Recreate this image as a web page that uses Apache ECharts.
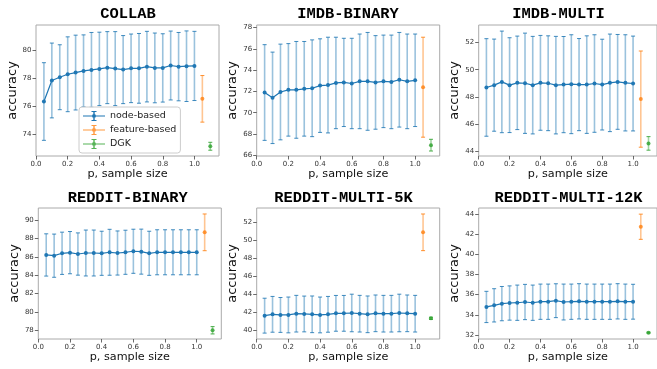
<!DOCTYPE html>
<html>
<head>
<meta charset="utf-8">
<script src="https://cdn.jsdelivr.net/npm/echarts@6/dist/echarts.min.js"></script>
<style>
  html, body { margin: 0; padding: 0; background: #fff; }
  #chart { width: 657px; height: 369px; }
</style>
</head>
<body>
<div id="chart"></div>
<script>
// sample sizes p (node-based points)
const sampleSizes = [0.05,0.1,0.15,0.2,0.25,0.3,0.35,0.4,0.45,0.5,0.55,0.6,0.65,0.7,0.75,0.8,0.85,0.9,0.95,1.0];
const featureX = 1.05;
const dgkX = 1.1;

const datasets = ['COLLAB','IMDB-BINARY','IMDB-MULTI','REDDIT-BINARY','REDDIT-MULTI-5K','REDDIT-MULTI-12K'];

const collabMean = [76.35,77.84,78.07,78.28,78.40,78.52,78.59,78.66,78.75,78.68,78.61,78.70,78.70,78.82,78.73,78.73,78.90,78.82,78.85,78.87];
const collabStd  = [2.75,2.65,2.3,2.65,2.65,2.55,2.65,2.6,2.55,2.62,2.41,2.43,2.47,2.5,2.47,2.42,2.44,2.42,2.5,2.45];
const imdbBMean  = [71.9,71.4,71.95,72.15,72.15,72.25,72.3,72.55,72.6,72.8,72.85,72.75,72.95,72.95,72.85,72.95,72.9,73.1,72.95,73.05];
const imdbBStd   = [4.5,4.3,4.5,4.35,4.55,4.45,4.55,4.4,4.5,4.3,4.15,4.25,4.45,4.6,4.4,4.35,4.4,4.45,4.45,4.35];
const imdbMMean  = [48.69,48.86,49.1,48.86,49.03,49.0,48.86,49.03,49.0,48.86,48.9,48.93,48.9,48.9,48.98,48.9,49.03,49.1,49.03,48.98];
const imdbMStd   = [3.6,3.4,3.75,3.5,3.45,3.7,3.6,3.5,3.5,3.6,3.55,3.65,3.4,3.6,3.6,3.35,3.6,3.5,3.55,3.5];
const redditBMean = [86.2,86.12,86.38,86.45,86.3,86.41,86.41,86.38,86.49,86.41,86.49,86.6,86.56,86.38,86.49,86.49,86.49,86.49,86.49,86.49];
const redditBStd  = [2.3,2.35,2.3,2.3,2.3,2.5,2.5,2.4,2.5,2.4,2.4,2.4,2.45,2.4,2.45,2.45,2.45,2.45,2.45,2.45];
const reddit5Mean = [41.6,41.75,41.68,41.68,41.82,41.79,41.75,41.68,41.75,41.86,41.86,41.9,41.82,41.75,41.86,41.82,41.82,41.9,41.86,41.82];
const reddit5Std  = [1.95,2.0,1.95,2.0,2.05,2.0,2.05,2.0,2.0,2.0,2.0,2.1,2.05,2.05,2.05,2.05,2.05,2.1,2.05,2.05];
const reddit12Mean = [34.78,34.94,35.11,35.17,35.2,35.27,35.2,35.3,35.3,35.4,35.27,35.3,35.34,35.3,35.3,35.3,35.3,35.34,35.3,35.3];
const reddit12Std  = [1.55,1.65,1.7,1.7,1.75,1.75,1.75,1.75,1.75,1.68,1.78,1.75,1.75,1.75,1.75,1.75,1.75,1.75,1.75,1.73];

// one value per dataset, same order as datasets
const featureMean = [76.54,72.4,47.83,88.66,50.92,42.74];
const featureStd  = [1.65,4.7,3.55,2.0,2.05,1.25];
const dgkMean = [73.18,66.95,44.56,78.0,41.3,32.23];
const dgkStd  = [0.28,0.55,0.5,0.4,0.12,0.05];

const nodeMeans = [collabMean, imdbBMean, imdbMMean, redditBMean, reddit5Mean, reddit12Mean];
const nodeStds  = [collabStd, imdbBStd, imdbMStd, redditBStd, reddit5Std, reddit12Std];

// tick labels
const xTicks = [0, 0.2, 0.4, 0.6, 0.8, 1.0];
const yTicks = [
  [74,76,78,80],
  [66,68,70,72,74,76,78],
  [44,46,48,50,52],
  [78,80,82,84,86,88,90],
  [40,42,44,46,48,50,52],
  [32,34,36,38,40,42,44]
];

// layout of each panel (px) and y extent
const panels = [
  {left: 36,    top: 25,  yMin: 72.49, yMax: 81.77, titleX: 128,   titleY: 14,    nameGap: 15},
  {left: 256.7, top: 25,  yMin: 65.93, yMax: 78.25, titleX: 348,   titleY: 14,    nameGap: 17.5},
  {left: 478.7, top: 25,  yMin: 43.63, yMax: 53.3,  titleX: 558.5, titleY: 14,    nameGap: 17.5},
  {left: 38.3,  top: 208, yMin: 77.05, yMax: 91.31, titleX: 127.7, titleY: 197.7, nameGap: 17.5},
  {left: 256.7, top: 208, yMin: 38.99, yMax: 53.64, titleX: 343.5, titleY: 197.7, nameGap: 17.5},
  {left: 478.7, top: 208, yMin: 31.6,  yMax: 44.6,  titleX: 568.5, titleY: 197.7, nameGap: 17.5}
];

const BLUE = '#1f77b4', ORANGE = '#ff7f0e', GREEN = '#2ca02c';

function errorBar(color, capColor) {
  return function (params, api) {
    const x = api.value(0), lo = api.value(1), hi = api.value(2);
    const a = api.coord([x, hi]), b = api.coord([x, lo]);
    const w = 2;
    return {
      type: 'group',
      children: [
        {type: 'line', shape: {x1: a[0], y1: a[1], x2: b[0], y2: b[1]}, style: {stroke: color, lineWidth: 1.6}},
        {type: 'line', shape: {x1: a[0] - w, y1: a[1], x2: a[0] + w, y2: a[1]}, style: {stroke: capColor, lineWidth: 1}},
        {type: 'line', shape: {x1: b[0] - w, y1: b[1], x2: b[0] + w, y2: b[1]}, style: {stroke: capColor, lineWidth: 1}}
      ]
    };
  };
}

const grids = [], xAxes = [], yAxes = [], series = [], graphics = [];
const tickStyle = {color: '#444', width: 0.8};
const labelStyle = {color: '#333', fontSize: 7, fontFamily: 'DejaVu Sans'};

panels.forEach(function (p, i) {
  grids.push({left: p.left, top: p.top, width: 183, height: 131, show: true,
    borderColor: '#aaa', borderWidth: 1, backgroundColor: 'transparent'});
  xAxes.push({
    type: 'value', gridIndex: i, min: 0, max: 1.155,
    name: 'p, sample size', nameLocation: 'middle', nameGap: i < 3 ? 11 : 12,
    nameTextStyle: {fontSize: 11.2, color: '#111', fontFamily: 'DejaVu Sans'},
    axisLine: {show: false}, splitLine: {show: false},
    axisTick: {show: true, length: 3.5, lineStyle: tickStyle, customValues: xTicks},
    axisLabel: Object.assign({margin: 4.5, customValues: xTicks, formatter: v => v.toFixed(1)}, labelStyle)
  });
  yAxes.push({
    type: 'value', gridIndex: i, min: p.yMin, max: p.yMax,
    name: 'accuracy', nameLocation: 'middle', nameGap: p.nameGap, nameRotate: 90,
    nameTextStyle: {fontSize: 13, color: '#111', fontFamily: 'DejaVu Sans'},
    axisLine: {show: false}, splitLine: {show: false},
    axisTick: {show: true, length: 3.5, lineStyle: tickStyle, customValues: yTicks[i]},
    axisLabel: Object.assign({margin: 4.5, customValues: yTicks[i]}, labelStyle)
  });

  const m = nodeMeans[i], s = nodeStds[i];
  series.push({
    type: 'custom', name: 'node-err', xAxisIndex: i, yAxisIndex: i, z: 1,
    renderItem: errorBar('rgba(31,119,180,0.45)', 'rgba(31,119,180,0.85)'),
    data: sampleSizes.map((x, k) => [x, m[k] - s[k], m[k] + s[k]])
  });
  series.push({
    type: 'custom', name: 'feature-err', xAxisIndex: i, yAxisIndex: i, z: 1,
    renderItem: errorBar('rgba(255,127,14,0.45)', 'rgba(255,127,14,0.85)'),
    data: [[featureX, featureMean[i] - featureStd[i], featureMean[i] + featureStd[i]]]
  });
  series.push({
    type: 'custom', name: 'dgk-err', xAxisIndex: i, yAxisIndex: i, z: 1,
    renderItem: errorBar('rgba(44,160,44,0.45)', 'rgba(44,160,44,0.85)'),
    data: [[dgkX, dgkMean[i] - dgkStd[i], dgkMean[i] + dgkStd[i]]]
  });
  series.push({
    type: 'line', name: 'node-based', xAxisIndex: i, yAxisIndex: i, z: 3,
    symbol: 'circle', symbolSize: 4, color: BLUE,
    lineStyle: {width: 1.2, color: BLUE}, itemStyle: {color: BLUE},
    data: sampleSizes.map((x, k) => [x, m[k]])
  });
  series.push({
    type: 'scatter', name: 'feature-based', xAxisIndex: i, yAxisIndex: i, z: 3,
    symbolSize: 4, itemStyle: {color: ORANGE}, data: [[featureX, featureMean[i]]]
  });
  series.push({
    type: 'scatter', name: 'DGK', xAxisIndex: i, yAxisIndex: i, z: 3,
    symbolSize: 4, itemStyle: {color: GREEN}, data: [[dgkX, dgkMean[i]]]
  });

  graphics.push({
    type: 'text', x: p.titleX, y: p.titleY,
    style: {text: datasets[i], fill: '#000', font: 'bold 15.4px "Liberation Mono", monospace',
      textAlign: 'center', textVerticalAlign: 'middle'}
  });
});

// error bar style legend icon
const errIcon = 'path://M0,4.4H22V5.6H0Z M10.3,0H11.7V10H10.3Z M8.5,0H13.5V0.9H8.5Z M8.5,9.1H13.5V10H8.5Z M9,5A2,2 0 1 1 13,5A2,2 0 1 1 9,5Z';

const chart = echarts.init(document.getElementById('chart'), null, {renderer: 'canvas'});
chart.setOption({
  animation: false,
  backgroundColor: '#fff',
  grid: grids,
  xAxis: xAxes,
  yAxis: yAxes,
  series: series,
  graphic: graphics,
  legend: {
    orient: 'vertical', left: 79, top: 107, selectedMode: false,
    itemWidth: 22, itemHeight: 10, itemGap: 2, padding: [3, 4],
    backgroundColor: 'rgba(255,255,255,0.85)', borderColor: '#ccc', borderWidth: 1, borderRadius: 3,
    textStyle: {fontSize: 9.5, lineHeight: 12, color: '#222', fontFamily: 'DejaVu Sans'},
    data: [
      {name: 'node-based', icon: errIcon, itemStyle: {color: BLUE}},
      {name: 'feature-based', icon: errIcon, itemStyle: {color: ORANGE}},
      {name: 'DGK', icon: errIcon, itemStyle: {color: GREEN}}
    ]
  }
});
window.addEventListener('resize', function () { chart.resize(); });
</script>
</body>
</html>
